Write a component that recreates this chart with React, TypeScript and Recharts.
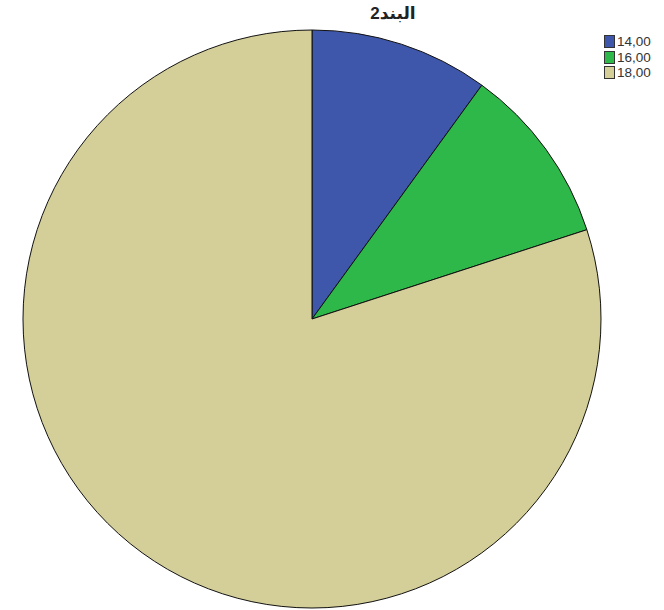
import { Pie, PieChart, Cell } from "recharts";

const categories = ["14,00", "16,00", "18,00"];
const counts = [1, 1, 8];
const colors = ["#3e57ab", "#2fb84a", "#d4cf98"];

const data = categories.map((name, i) => ({ name, value: counts[i] }));

function LegendBox() {
  return (
    <div
      style={{
        position: "absolute",
        left: 604,
        top: 34,
        fontFamily: "Arial, 'Liberation Sans', sans-serif",
        fontSize: 13.5,
        lineHeight: "15.5px",
        color: "#333",
      }}
    >
      {categories.map((c, i) => (
        <div key={c} style={{ display: "flex", alignItems: "center", height: 15.5 }}>
          <span
            style={{
              width: 9,
              height: 11,
              background: colors[i],
              border: "1px solid #333",
              marginRight: 2,
              display: "inline-block",
            }}
          />
          <span>{c}</span>
        </div>
      ))}
    </div>
  );
}

export default function App() {
  return (
    <div style={{ position: "absolute", left: 0, top: 0, width: 664, height: 610, background: "#fff" }}>
      <PieChart width={664} height={610} margin={{ top: 0, right: 0, bottom: 0, left: 0 }}>
        <Pie
          data={data}
          dataKey="value"
          nameKey="name"
          cx={312}
          cy={319}
          outerRadius={289}
          startAngle={90}
          endAngle={-270}
          stroke="#111"
          strokeWidth={1}
          isAnimationActive={false}
        >
          {data.map((d, i) => (
            <Cell key={d.name} fill={colors[i]} />
          ))}
        </Pie>
      </PieChart>
      <div
        style={{
          position: "absolute",
          left: 343,
          width: 100,
          top: 3,
          textAlign: "center",
          fontFamily: "Arial, 'Liberation Sans', 'DejaVu Sans', sans-serif",
          fontWeight: "bold",
          fontSize: 17,
          color: "#222",
        }}
        dir="rtl"
      >
        البند2
      </div>
      <LegendBox />
    </div>
  );
}
